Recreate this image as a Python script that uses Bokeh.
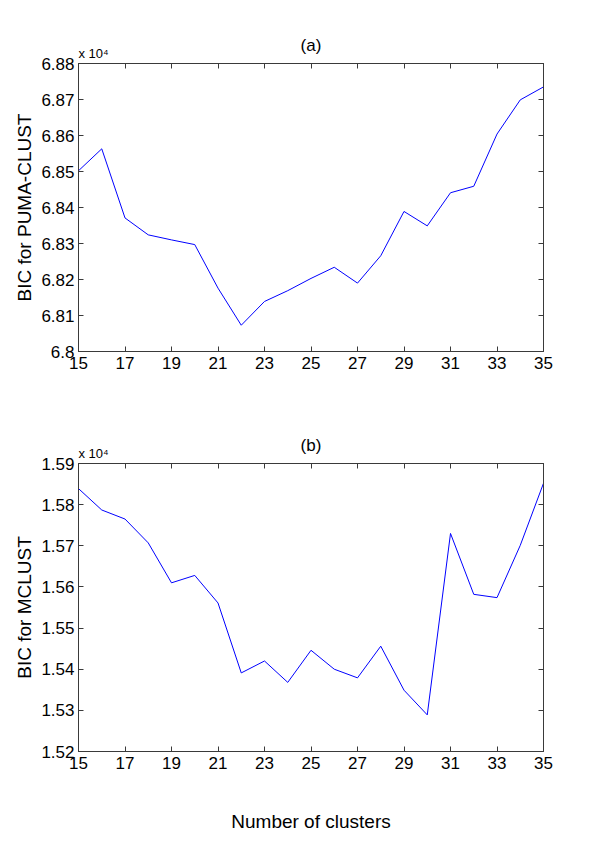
from bokeh.plotting import figure
from bokeh.layouts import column
from bokeh.models import Range1d, FixedTicker, LinearAxis, Title, CustomJSTickFormatter
from bokeh.embed import file_html
from bokeh.resources import INLINE

clusters = list(range(15, 36))
bic_puma = [68502, 68563, 68371, 68324, 68310, 68297, 68176, 68073, 68139, 68169, 68203,
            68234, 68190, 68266, 68389, 68349, 68441, 68459, 68604, 68699, 68735]
bic_mclust = [15839, 15787, 15765, 15707, 15610, 15628, 15561, 15391, 15420, 15368, 15446,
              15400, 15379, 15456, 15349, 15289, 15730, 15582, 15574, 15701, 15852]

x_ticks = [15, 17, 19, 21, 23, 25, 27, 29, 31, 33, 35]
y_ticks_a = [68000, 68100, 68200, 68300, 68400, 68500, 68600, 68700, 68800]
y_labels_a = ["6.8", "6.81", "6.82", "6.83", "6.84", "6.85", "6.86", "6.87", "6.88"]
y_ticks_b = [15200, 15300, 15400, 15500, 15600, 15700, 15800, 15900]
y_labels_b = ["1.52", "1.53", "1.54", "1.55", "1.56", "1.57", "1.58", "1.59"]
scale_text = "x 10\u2074"

FONT = "Liberation Sans"
AX = "#3a3a3a"


def make_panel(yvals, yticks, ylabels, ylab, title, bottom, xlab=None):
    p = figure(frame_width=465, frame_height=288,
               min_border_left=78, min_border_right=49, min_border_top=63,
               min_border_bottom=bottom, output_backend="svg", toolbar_location=None,
               x_range=Range1d(15, 35), y_range=Range1d(yticks[0], yticks[-1]))
    p.line(clusters, yvals, line_color="#0000ff", line_width=1)
    p.grid.visible = False
    p.outline_line_color = AX
    p.background_fill_color = "white"
    p.border_fill_color = "white"

    xa = p.xaxis[0]
    xa.ticker = FixedTicker(ticks=x_ticks)
    ya = p.yaxis[0]
    ya.ticker = FixedTicker(ticks=yticks)
    ya.major_label_overrides = {t: l for t, l in zip(yticks, ylabels)}
    for ax in (xa, ya):
        ax.major_tick_in = 5
        ax.major_tick_out = 0
        ax.minor_tick_line_color = None
        ax.axis_line_color = AX
        ax.major_tick_line_color = AX
        ax.major_label_text_font = FONT
        ax.major_label_text_font_size = "17px"
        ax.major_label_text_color = "black"
        ax.axis_label_text_font = FONT
        ax.axis_label_text_font_size = "19px"
        ax.axis_label_text_font_style = "normal"
        ax.axis_label_text_color = "black"
    xa.major_label_standoff = 5
    ya.major_label_standoff = 4
    ya.axis_label = ylab
    ya.axis_label_standoff = 3
    if xlab:
        xa.axis_label = xlab
        xa.axis_label_standoff = 39

    top = LinearAxis(ticker=FixedTicker(ticks=x_ticks),
                     formatter=CustomJSTickFormatter(code="return ''"))
    right = LinearAxis(ticker=FixedTicker(ticks=yticks),
                       formatter=CustomJSTickFormatter(code="return ''"))
    for ax in (top, right):
        ax.major_tick_in = 5
        ax.major_tick_out = 0
        ax.minor_tick_line_color = None
        ax.axis_line_color = AX
        ax.major_tick_line_color = AX
        ax.major_label_text_font_size = "0px"
        ax.major_label_standoff = 0
    p.add_layout(top, "above")
    p.add_layout(right, "right")

    p.add_layout(Title(text=scale_text, align="left", text_font=FONT,
                       text_font_size="13px", text_font_style="normal",
                       text_color="black", standoff=5), "above")
    p.title.text = title
    p.title.align = "center"
    p.title.text_font = FONT
    p.title.text_font_size = "17px"
    p.title.text_font_style = "normal"
    p.title.text_color = "black"
    p.title.standoff = -27
    return p


p1 = make_panel(bic_puma, y_ticks_a, y_labels_a, "BIC for PUMA-CLUST", "(a)", 49)
p2 = make_panel(bic_mclust, y_ticks_b, y_labels_b, "BIC for MCLUST", "(b)", 87,
                xlab="Number of clusters")

layout = column(p1, p2, spacing=0)
open("out.html", "w").write(file_html(layout, INLINE))
